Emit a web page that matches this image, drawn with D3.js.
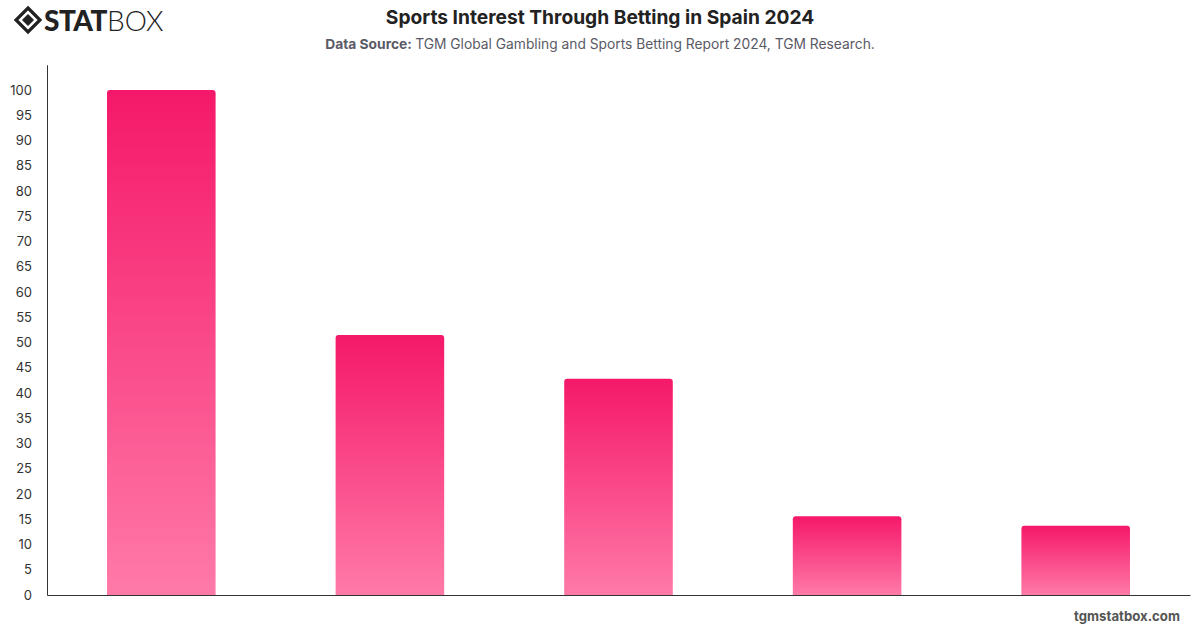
<!DOCTYPE html>
<html><head><meta charset="utf-8">
<script src="https://cdn.jsdelivr.net/npm/d3@7"></script>
<style>body{margin:0;background:#fff;}svg{display:block;font-family:Inter,"Helvetica Neue",Arial,sans-serif;}</style>
</head><body><svg id="c" width="1200" height="628"></svg>
<script>
const categories = ["Football", "Basketball", "Tennis", "Motor Sports", "Cycling"];
const values = [100, 51.5, 42.8, 15.6, 13.7];
const yTicks = [0,5,10,15,20,25,30,35,40,45,50,55,60,65,70,75,80,85,90,95,100];

const svg = d3.select("#c");
const m = {left: 47, right: 1190, top: 64.75, bottom: 595};
const x = d3.scaleBand().domain(categories).range([m.left, m.right]).paddingInner(0.525).paddingOuter(0.2625);
const y = d3.scaleLinear().domain([0, 105]).range([m.bottom, m.top]);

const defs = svg.append("defs");
const grad = defs.append("linearGradient").attr("id", "g").attr("x1", 0).attr("y1", 0).attr("x2", 0).attr("y2", 1);
grad.append("stop").attr("offset", "0%").attr("stop-color", "#f5186a");
grad.append("stop").attr("offset", "100%").attr("stop-color", "#ff7aa8");

// title
svg.append("text").attr("x", 600).attr("y", 24).attr("text-anchor", "middle")
  .attr("font-size", 19.2).attr("font-weight", 700).attr("fill", "#222").text("Sports Interest Through Betting in Spain 2024");
const sub = svg.append("text").attr("x", 600).attr("y", 49).attr("text-anchor", "middle")
  .attr("font-size", 13.8).attr("fill", "#5a5a66");
sub.append("tspan").attr("font-weight", 700).text("Data Source: ");
sub.append("tspan").text("TGM Global Gambling and Sports Betting Report 2024, TGM Research.");

// logo
const lg = svg.append("g").attr("transform", "translate(28,20)");
lg.append("path").attr("d", "M0,-12 L12,0 L0,12 L-12,0 Z").attr("fill", "none").attr("stroke", "#222").attr("stroke-width", 3.2);
lg.append("path").attr("d", "M0,-6 L6,0 L0,6 L-6,0 Z").attr("fill", "#222");
svg.append("text").attr("x", 44).attr("y", 31).attr("font-size", 28).attr("font-weight", 900)
  .attr("font-family", "Lato, Arial, sans-serif").attr("fill", "#222").attr("letter-spacing", -0.5).text("STAT")
  .append("tspan").attr("font-weight", 300).attr("letter-spacing", 0).text("BOX");

// bars
svg.append("g").selectAll("path").data(categories).join("path")
  .attr("fill", "url(#g)")
  .attr("d", (d, i) => {
    const x0 = x(d), w = x.bandwidth(), y0 = y(values[i]), y1 = y(0), r = 3;
    return `M${x0},${y1}V${y0 + r}Q${x0},${y0} ${x0 + r},${y0}H${x0 + w - r}Q${x0 + w},${y0} ${x0 + w},${y0 + r}V${y1}Z`;
  });

// y axis
const ya = svg.append("g").attr("transform", `translate(${m.left},0)`)
  .call(d3.axisLeft(y).tickValues(yTicks).tickSize(0).tickPadding(15));
ya.select(".domain").attr("stroke", "#333");
ya.selectAll("text").attr("font-size", 13).attr("fill", "#333").attr("font-family", "Inter, Arial, sans-serif");

// x axis
const xa = svg.append("g").attr("transform", `translate(0,${m.bottom})`)
  .call(d3.axisBottom(x).tickSize(0).tickFormat(""));
xa.select(".domain").attr("stroke", "#333");

// footer
svg.append("text").attr("x", 1180).attr("y", 621).attr("text-anchor", "end")
  .attr("font-size", 13.2).attr("font-weight", 700).attr("fill", "#555").text("tgmstatbox.com");
</script></body></html>
